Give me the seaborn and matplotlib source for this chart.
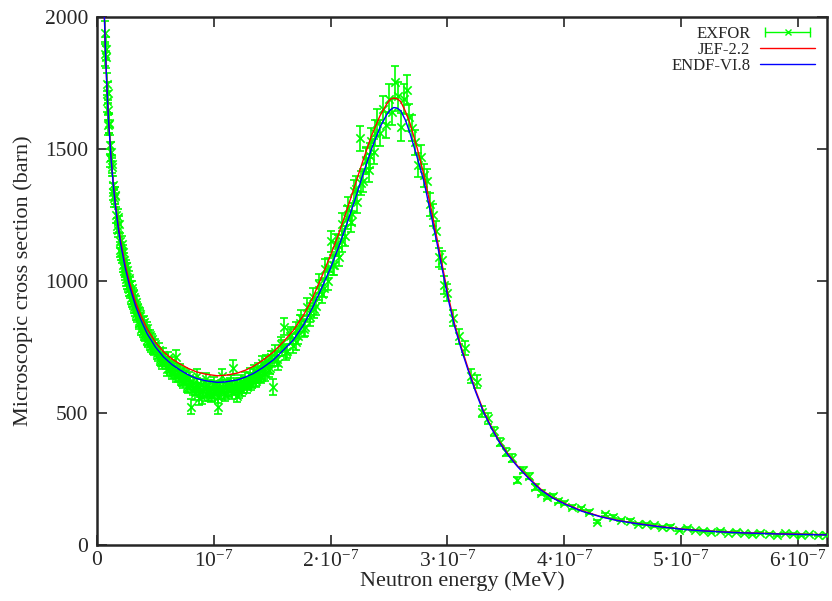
import numpy as np
import matplotlib
matplotlib.use("Agg")
import matplotlib.pyplot as plt
import seaborn as sns
from matplotlib.lines import Line2D
from matplotlib.legend_handler import HandlerLine2D, HandlerTuple

# EXFOR measurements: neutron energy (eV), cross section (barn), uncertainty (barn)
exfor_ev = [
    0.0050, 0.0054, 0.0058, 0.0062, 0.0066, 0.0070, 0.0074, 0.0078, 0.0082, 0.0086,
    0.0090, 0.0094, 0.0098, 0.0102, 0.0106, 0.0110, 0.0115, 0.0120, 0.0125, 0.0130,
    0.0135, 0.0140, 0.0146, 0.0152, 0.0158, 0.0164, 0.0170, 0.0176, 0.0182, 0.0188,
    0.0194, 0.0200, 0.0207, 0.0214, 0.0221, 0.0228, 0.0235, 0.0242, 0.0250, 0.0258,
    0.0266, 0.0274, 0.0282, 0.0290, 0.0298, 0.0306, 0.0315, 0.0324, 0.0333, 0.0342,
    0.0352, 0.0362, 0.0372, 0.0382, 0.0393, 0.0404, 0.0415, 0.0426, 0.0438, 0.0450,
    0.0462, 0.0475, 0.0488, 0.0500,
    0.0515, 0.0533, 0.0551, 0.0569, 0.0587, 0.0605, 0.0623, 0.0641, 0.0659, 0.0677,
    0.0695, 0.0713, 0.0731, 0.0749, 0.0767, 0.0785, 0.0803, 0.0821, 0.0839, 0.0857,
    0.0875, 0.0893, 0.0911, 0.0929, 0.0947, 0.0965, 0.0983, 0.1001, 0.1019, 0.1037,
    0.1055, 0.1073, 0.1091, 0.1109, 0.1127, 0.1145, 0.1163, 0.1181, 0.1199, 0.1217,
    0.1235, 0.1253, 0.1271, 0.1289, 0.1307, 0.1325, 0.1343, 0.1361, 0.1379, 0.1397,
    0.1415, 0.1433, 0.1451, 0.1469, 0.1487, 0.1505,
    0.1525, 0.1550, 0.1575, 0.1600, 0.1625, 0.1650, 0.1675, 0.1700, 0.1725, 0.1750,
    0.1775, 0.1800, 0.1825, 0.1850, 0.1875, 0.1900, 0.1925, 0.1950, 0.1975, 0.2000,
    0.2025, 0.2050, 0.2075, 0.2100, 0.2125, 0.2150, 0.2175, 0.2200, 0.2225, 0.2250,
    0.2275, 0.2300, 0.2325, 0.2350, 0.2375, 0.2400, 0.2425, 0.2450, 0.2475, 0.2500,
    0.2525, 0.2550, 0.2575, 0.2600, 0.2625, 0.2650, 0.2675, 0.2700, 0.2725, 0.2750,
    0.2775, 0.2800, 0.2825, 0.2850, 0.2875, 0.2900, 0.2925, 0.2950, 0.2975, 0.3000,
    0.305, 0.310, 0.315, 0.320, 0.325, 0.330, 0.335, 0.340, 0.345, 0.350,
    0.355, 0.360, 0.365, 0.370, 0.375, 0.380, 0.385, 0.390, 0.395, 0.400,
    0.407, 0.414, 0.421, 0.428, 0.435, 0.442, 0.449, 0.456, 0.463, 0.470,
    0.477, 0.484, 0.491, 0.498, 0.505, 0.512, 0.519, 0.526, 0.533, 0.540,
    0.547, 0.554, 0.561, 0.568, 0.575, 0.582, 0.589, 0.596, 0.603, 0.610,
    0.617, 0.624,
    # second measurement set
    0.0212, 0.0224, 0.0236, 0.0248, 0.0260, 0.0272, 0.0284, 0.0296, 0.0308, 0.0320,
    0.0332, 0.0344, 0.0356, 0.0368, 0.0380, 0.0392, 0.0404, 0.0416, 0.0428, 0.0440,
    0.0452, 0.0464, 0.0476, 0.0490,
    0.052, 0.054, 0.056, 0.058, 0.060, 0.062, 0.064, 0.066, 0.068, 0.070,
    0.072, 0.074, 0.076, 0.078, 0.080, 0.082, 0.084, 0.086, 0.088, 0.090,
    0.092, 0.094, 0.096, 0.098, 0.100, 0.102, 0.104, 0.106, 0.108, 0.110,
    0.112, 0.114, 0.116, 0.118, 0.120, 0.122, 0.124, 0.126, 0.128, 0.130,
    0.132, 0.134, 0.136, 0.138, 0.140, 0.142, 0.144, 0.146, 0.148, 0.150,
    0.154, 0.158, 0.162, 0.166, 0.170, 0.174, 0.178, 0.182, 0.186, 0.190,
    0.194, 0.198, 0.202, 0.206, 0.210, 0.214, 0.218, 0.222, 0.226, 0.230,
    0.234, 0.238,
]
exfor_xs = [
    2260, 2120, 2092, 2061, 1941, 1860, 1880, 1848, 1745, 1680,
    1713, 1648, 1590, 1599, 1595, 1517, 1465, 1490, 1431, 1444,
    1339, 1365, 1313, 1323, 1324, 1251, 1210, 1244, 1195, 1216,
    1119, 1152, 1109, 1141, 1109, 1048, 1078, 1043, 1007, 1042,
    982, 1013, 960, 937, 975, 918, 941, 893, 920, 866,
    889, 842, 876, 830, 810, 846, 794, 822, 770, 795,
    752, 780, 738, 760,
    728, 740, 700, 721, 690, 708, 668, 690, 655, 713,
    640, 662, 625, 648, 603, 632, 524, 612, 590, 640,
    557, 605, 585, 628, 578, 600, 570, 612, 588, 524,
    598, 640, 575, 603, 585, 618, 672, 592, 610, 580,
    620, 598, 630, 612, 645, 620, 660, 630, 665, 640,
    690, 655, 698, 662, 712, 600,
    730, 690, 760, 827, 735, 790, 755, 815, 790, 858,
    818, 900, 862, 940, 905, 990, 950, 1045, 1000, 1150,
    1060, 1140, 1092, 1215, 1170, 1275, 1225, 1340, 1300, 1540,
    1380, 1460, 1420, 1530, 1490, 1600, 1560, 1650, 1590, 1690,
    1640, 1755, 1700, 1584, 1690, 1723, 1620, 1580, 1525, 1440,
    1470, 1400, 1380, 1290, 1250, 1190, 1090, 1080, 985, 955,
    860, 790, 745, 640, 619, 505, 480, 430, 391, 353,
    330, 246, 284, 262, 220, 198, 183, 187, 168, 160,
    145, 139, 125, 88, 117, 107, 94, 92, 80, 78,
    74, 68, 70, 57, 63, 55, 54, 50, 52, 47,
    49, 44, 40, 45, 43, 38, 44, 41, 37, 40,
    36, 39,
    1095, 1062, 1030, 1055, 995, 968, 990, 925, 950, 902,
    875, 898, 850, 868, 818, 840, 800, 812, 778, 795,
    760, 772, 742, 755,
    720, 705, 690, 702, 668, 672, 652, 665, 640, 650,
    628, 618, 635, 600, 615, 590, 575, 605, 585, 560,
    598, 572, 590, 565, 582, 595, 560, 578, 600, 570,
    590, 612, 580, 598, 565, 605, 588, 615, 600, 625,
    610, 640, 622, 650, 635, 668, 648, 690, 672, 705,
    705, 745, 730, 795, 770, 840, 825, 880, 895, 965,
    975, 1050, 1060, 1135, 1150, 1240, 1255, 1350, 1370, 1455,
    1475, 1560,
]
exfor_err = [
    50, 48, 48, 46, 45, 44, 44, 42, 42, 40,
    40, 38, 38, 37, 36, 36, 35, 35, 34, 34,
    33, 33, 32, 32, 31, 31, 30, 30, 30, 29,
    29, 28, 28, 28, 27, 27, 27, 26, 26, 26,
    25, 25, 25, 25, 24, 24, 24, 24, 23, 23,
    23, 23, 22, 22, 22, 22, 22, 21, 21, 21,
    21, 21, 20, 20,
    22, 24, 21, 25, 23, 22, 24, 21, 23, 26,
    22, 24, 21, 23, 25, 22, 28, 24, 22, 26,
    27, 23, 24, 25, 22, 24, 23, 26, 22, 28,
    24, 25, 23, 22, 24, 26, 27, 23, 22, 24,
    25, 23, 26, 22, 24, 25, 23, 26, 24, 22,
    27, 25, 23, 26, 24, 30,
    28, 27, 29, 32, 28, 30, 29, 31, 30, 33,
    31, 34, 32, 35, 33, 36, 34, 37, 35, 40,
    36, 39, 37, 41, 38, 42, 40, 44, 42, 48,
    44, 46, 45, 48, 46, 50, 48, 52, 49, 55,
    50, 60, 55, 52, 56, 58, 52, 50, 48, 46,
    46, 44, 43, 42, 40, 38, 36, 35, 33, 32,
    30, 28, 27, 25, 24, 21, 20, 18, 16, 15,
    14, 12, 12, 11, 10, 9, 9, 8, 8, 7,
    7, 6, 6, 5, 6, 5, 5, 5, 4, 4,
    4, 4, 4, 3, 4, 3, 3, 3, 3, 3,
    3, 3, 3, 3, 3, 3, 3, 3, 3, 3,
    3, 3,
    28, 27, 27, 26, 26, 25, 25, 24, 24, 24,
    23, 23, 23, 22, 22, 22, 22, 21, 21, 21,
    21, 21, 20, 20,
    24, 22, 25, 23, 26, 22, 24, 25, 23, 27,
    22, 24, 26, 23, 25, 22, 24, 27, 23, 25,
    22, 26, 24, 23, 27, 25, 22, 24, 26, 23,
    25, 22, 27, 24, 23, 26, 25, 22, 24, 27,
    23, 25, 24, 26, 22, 25, 27, 24, 26, 28,
    28, 30, 29, 32, 31, 33, 32, 35, 34, 37,
    36, 39, 38, 41, 40, 43, 42, 46, 45, 48,
    47, 50,
]

# evaluated data (JEF-2.2 and ENDF-VI.8) on a common energy grid (eV)
curve_ev = [
    0.0055, 0.006, 0.007, 0.008, 0.009, 0.010, 0.012, 0.014, 0.016, 0.018,
    0.020, 0.024, 0.028, 0.033, 0.038, 0.043, 0.050, 0.057, 0.064, 0.071,
    0.078, 0.085, 0.093, 0.103, 0.110, 0.120, 0.127, 0.134, 0.142, 0.151,
    0.160, 0.168, 0.177, 0.185, 0.192, 0.200, 0.207, 0.214, 0.221, 0.228,
    0.235, 0.2425, 0.248, 0.251, 0.254, 0.257, 0.260, 0.264, 0.268, 0.274,
    0.280, 0.286, 0.291, 0.296, 0.301, 0.306, 0.312, 0.317, 0.324, 0.331,
    0.338, 0.345, 0.352, 0.360, 0.370, 0.380, 0.390, 0.402, 0.415, 0.431,
    0.445, 0.460, 0.480, 0.502, 0.520, 0.545, 0.580, 0.625,
]
jef_xs = [
    2140, 2051, 1903, 1785, 1688, 1605, 1472, 1368, 1285, 1216,
    1158, 1064, 992, 920, 865, 818, 768, 732, 705, 686,
    669, 656, 647, 641, 643, 651, 662, 677, 700, 731,
    772, 812, 872, 940, 1012, 1098, 1180, 1270, 1365, 1460,
    1550, 1628, 1670, 1688, 1693, 1690, 1680, 1643, 1597, 1505,
    1400, 1275, 1163, 1050, 937, 840, 748, 679, 588, 507,
    444, 389, 344, 300, 253, 211, 180, 154, 130, 108,
    94, 83, 71, 60, 54, 48, 43, 39,
]
endf_xs = [
    2137, 2048, 1900, 1781, 1683, 1599, 1465, 1360, 1276, 1206,
    1147, 1052, 978, 905, 848, 800, 750, 712, 684, 663,
    645, 631, 622, 616, 618, 625, 636, 650, 672, 701,
    740, 776, 835, 903, 970, 1050, 1130, 1218, 1310, 1408,
    1500, 1584, 1630, 1648, 1657, 1655, 1645, 1610, 1559, 1470,
    1375, 1250, 1145, 1035, 925, 830, 740, 672, 582, 502,
    440, 385, 340, 297, 250, 208, 178, 152, 128, 107,
    93, 82, 70, 59, 53, 47, 42, 38,
]

x_tick_labels = ["0", r"$10^{-7}$", r"2·$10^{-7}$", r"3·$10^{-7}$",
                 r"4·$10^{-7}$", r"5·$10^{-7}$", r"6·$10^{-7}$"]

green = "#00ff00"

sns.set_style("ticks")
plt.rcParams["font.family"] = ["Liberation Serif", "DejaVu Serif"]
plt.rcParams["mathtext.fontset"] = "custom"
plt.rcParams["mathtext.rm"] = "Liberation Serif"
plt.rcParams["mathtext.it"] = "Liberation Serif:italic"

# energies to MeV
exfor_mev = np.array(exfor_ev) * 1e-6
curve_mev = np.array(curve_ev) * 1e-6

fig = plt.figure(figsize=(8.32, 6.01), dpi=100)
ax = fig.add_axes([0.1166, 0.0932, 0.8774, 0.8785])

# EXFOR points with error bars
ax.errorbar(exfor_mev, exfor_xs, yerr=exfor_err, fmt="none", ecolor=green,
            elinewidth=1.2, capsize=2.8, capthick=1.2, zorder=2)
sns.scatterplot(x=exfor_mev, y=exfor_xs, marker="x", color=green, s=36,
                linewidth=1.2, ax=ax, zorder=3)

# evaluated curves
sns.lineplot(x=curve_mev, y=jef_xs, color="red", linewidth=1, ax=ax,
             sort=False, zorder=4)
sns.lineplot(x=curve_mev, y=endf_xs, color="blue", linewidth=1, ax=ax,
             sort=False, zorder=5)

ax.set_xlim(0, 6.25e-7)
ax.set_ylim(0, 2000)
ax.set_xticks(np.arange(7) * 1e-7)
ax.set_xticklabels(x_tick_labels)
ax.set_yticks([0, 500, 1000, 1500, 2000])
ax.tick_params(direction="in", length=7, width=1.2, top=True, right=True,
               labelsize=15.5)
ax.tick_params(axis="x", pad=4)
ax.tick_params(axis="y", pad=6.5)
for s in ax.spines.values():
    s.set_linewidth(1.8)
    s.set_visible(True)

ax.set_xlabel("Neutron energy (MeV)", fontsize=16, labelpad=0)
ax.set_ylabel("Microscopic cross section (barn)", fontsize=16, labelpad=8)

# legend in gnuplot style: label first, sample on the right
caps = Line2D([], [], color=green, lw=1, marker="|", markersize=7, markeredgewidth=1)
xmark = Line2D([], [], color=green, ls="none", marker="x", markersize=5, markeredgewidth=1)
jef_line = Line2D([], [], color="red", lw=1)
endf_line = Line2D([], [], color="blue", lw=1)
ax.legend([(caps, xmark), jef_line, endf_line], ["EXFOR", "JEF-2.2", "ENDF-VI.8"],
          handler_map={caps: HandlerLine2D(numpoints=2),
                       xmark: HandlerLine2D(numpoints=1),
                       tuple: HandlerTuple(ndivide=1)},
          loc="upper right", frameon=False, markerfirst=False, fontsize=12,
          handlelength=3.3, handletextpad=0.6, labelspacing=0.0,
          borderaxespad=0.3, bbox_to_anchor=(1.0, 1.005))

plt.savefig("out.png", dpi=100)
